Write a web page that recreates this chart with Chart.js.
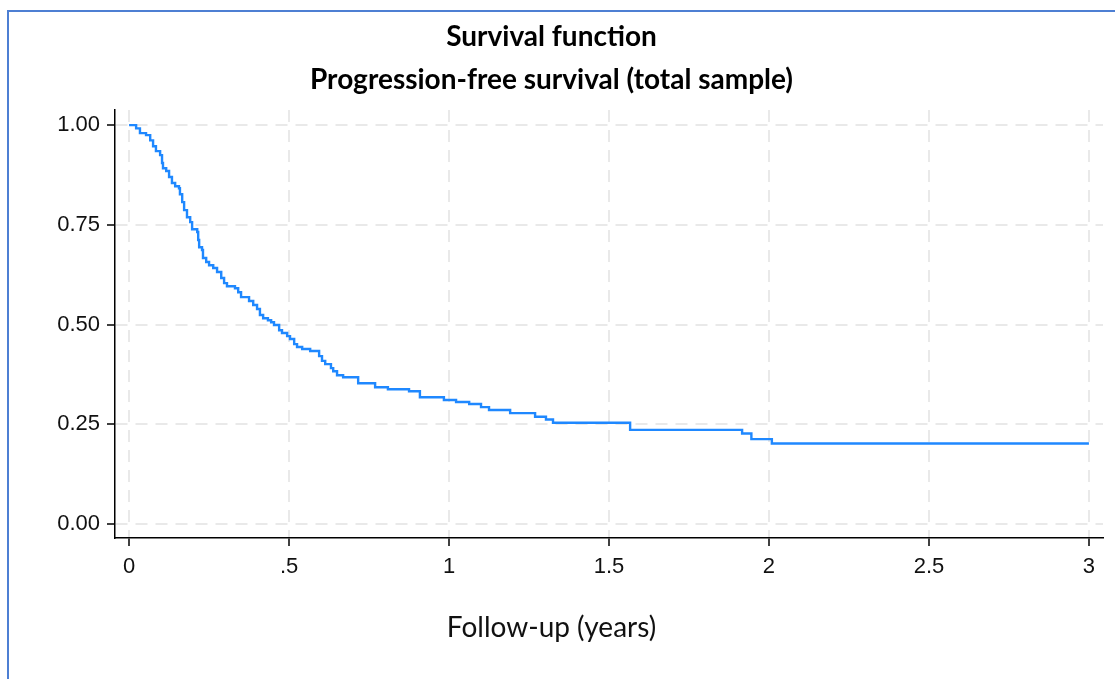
<!DOCTYPE html>
<html>
<head>
<meta charset="utf-8">
<script src="https://cdn.jsdelivr.net/npm/chart.js@4/dist/chart.umd.min.js"></script>
<style>
  html, body { margin: 0; padding: 0; background: #fff; }
  #wrap { position: relative; width: 1115px; height: 679px; overflow: hidden; }
  #frame { position: absolute; left: 7px; top: 10px; width: 1200px; height: 800px;
           border-left: 2px solid #4d7fd3; border-top: 2px solid #4d7fd3; box-sizing: border-box; }
  #box { position: absolute; left: 0; top: 0; width: 1115px; height: 679px; }
</style>
</head>
<body>
<div id="wrap">
  <div id="frame"></div>
  <div id="box"><canvas id="km"></canvas></div>
</div>
<script>
// --- DATA ---
const titleLines = ["Survival function", "Progression-free survival (total sample)"];
const xTitle = "Follow-up (years)";

// Kaplan-Meier step points: follow-up time (years) and survival after each drop
const times = [0, 0.022, 0.034, 0.053, 0.066, 0.075, 0.084, 0.097, 0.103, 0.106, 0.116, 0.125, 0.134, 0.144,
  0.156, 0.159, 0.166, 0.172, 0.181, 0.191, 0.197, 0.213, 0.216, 0.219, 0.228, 0.231, 0.241, 0.250, 0.263,
  0.275, 0.288, 0.297, 0.306, 0.331, 0.341, 0.350, 0.375, 0.388, 0.400, 0.409, 0.419, 0.434, 0.444, 0.453,
  0.469, 0.478, 0.494, 0.503, 0.516, 0.525, 0.541, 0.566, 0.594, 0.603, 0.613, 0.631, 0.638, 0.650, 0.669,
  0.716, 0.769, 0.809, 0.875, 0.909, 0.984, 1.022, 1.063, 1.100, 1.125, 1.191, 1.269, 1.303, 1.325, 1.566,
  1.916, 1.945, 2.009, 3.0];
const survival = [1.000, 0.992, 0.980, 0.975, 0.962, 0.947, 0.935, 0.925, 0.905, 0.892, 0.885, 0.870, 0.855, 0.847,
  0.842, 0.827, 0.807, 0.787, 0.769, 0.757, 0.739, 0.732, 0.712, 0.694, 0.687, 0.667, 0.657, 0.649, 0.642,
  0.632, 0.617, 0.604, 0.596, 0.591, 0.581, 0.569, 0.559, 0.549, 0.539, 0.524, 0.516, 0.511, 0.506, 0.499,
  0.486, 0.479, 0.471, 0.464, 0.451, 0.444, 0.439, 0.434, 0.421, 0.409, 0.401, 0.391, 0.383, 0.373, 0.368,
  0.353, 0.343, 0.338, 0.333, 0.318, 0.311, 0.306, 0.301, 0.293, 0.286, 0.278, 0.269, 0.262, 0.254, 0.236,
  0.227, 0.213, 0.202, 0.202];

const xTickValues = [0, 0.5, 1, 1.5, 2, 2.5, 3];
const xTickLabels = ["0", ".5", "1", "1.5", "2", "2.5", "3"];
const yTickValues = [0, 0.25, 0.5, 0.75, 1];
const yTickLabels = ["0.00", "0.25", "0.50", "0.75", "1.00"];

const points = times.map((t, i) => ({ x: t, y: survival[i] }));

const tickFont = { family: "'Liberation Sans', Arial, sans-serif", size: 22 };
const gridOpts = {
  color: '#e9e9e9',
  lineWidth: 2,
  tickColor: '#000',
  tickWidth: 1.5,
  tickLength: 8,
  tickBorderDash: []
};
const borderOpts = { color: '#000', width: 1.5, dash: [12, 8] };

new Chart(document.getElementById('km'), {
  type: 'line',
  data: {
    datasets: [{
      data: points,
      stepped: true,
      borderColor: '#1f88ff',
      borderWidth: 2.4,
      pointRadius: 0,
      fill: false
    }]
  },
  options: {
    responsive: true,
    maintainAspectRatio: false,
    animation: false,
    layout: { padding: { left: 0, right: 12, top: 0, bottom: 0 } },
    plugins: {
      legend: { display: false },
      tooltip: { enabled: false },
      title: {
        display: true,
        text: titleLines,
        color: '#000',
        font: { family: "Lato, 'Open Sans', sans-serif", size: 28, weight: 'bold', lineHeight: 1.536 },
        padding: { top: 15.5, bottom: 8.5 }
      },
      subtitle: {
        display: true,
        position: 'bottom',
        text: xTitle,
        color: '#111',
        font: { family: "Lato, 'Open Sans', sans-serif", size: 28, weight: 'normal', lineHeight: 1.2 },
        padding: { top: 10, bottom: 34 }
      }
    },
    scales: {
      x: {
        type: 'linear',
        min: -0.044,
        max: 3.044,
        afterBuildTicks: s => { s.ticks = xTickValues.map(v => ({ value: v })); },
        afterFit: s => { s.height = 63.4; s.paddingLeft = 0; s.paddingRight = 0; },
        ticks: {
          callback: (v, i) => xTickLabels[i],
          font: tickFont,
          color: '#111',
          padding: 8,
          maxRotation: 0,
          autoSkip: false
        },
        grid: gridOpts,
        border: borderOpts
      },
      y: {
        type: 'linear',
        min: -0.035,
        max: 1.038,
        afterBuildTicks: s => { s.ticks = yTickValues.map(v => ({ value: v })); },
        afterFit: s => { s.width = 115; s.paddingTop = 0; s.paddingBottom = 0; },
        ticks: {
          callback: (v, i) => yTickLabels[i],
          font: tickFont,
          color: '#111',
          padding: 7,
          autoSkip: false
        },
        grid: gridOpts,
        border: borderOpts
      }
    }
  }
});
</script>
</body>
</html>
